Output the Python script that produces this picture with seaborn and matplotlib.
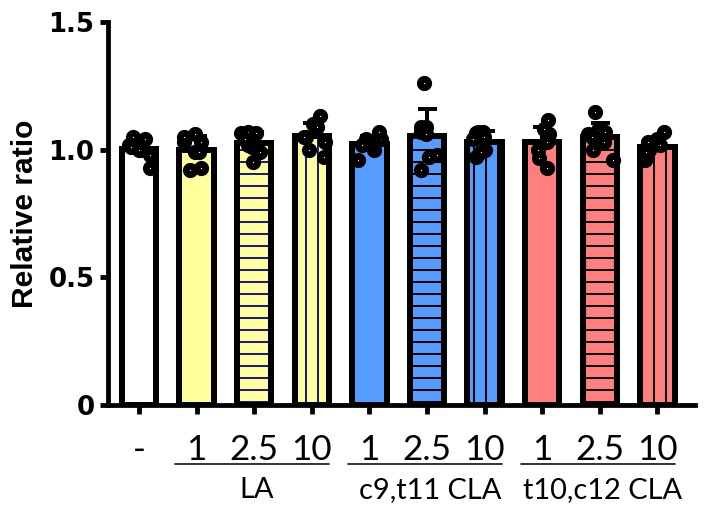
import numpy as np
import pandas as pd
import matplotlib
matplotlib.use("Agg")
import matplotlib.pyplot as plt
from matplotlib.patches import Rectangle
from matplotlib import transforms
import seaborn as sns

# Treatment conditions (x order) and their axis text
conditions = ["ctrl", "LA 1", "LA 2.5", "LA 10",
              "c9t11 1", "c9t11 2.5", "c9t11 10",
              "t10c12 1", "t10c12 2.5", "t10c12 10"]
dose_labels = ["-", "1", "2.5", "10", "1", "2.5", "10", "1", "2.5", "10"]
group_names = ["LA", "c9,t11 CLA", "t10,c12 CLA"]
group_spans = [(1, 3), (4, 6), (7, 9)]

# Relative ratio per replicate
ctrl = [1.00, 1.04, 1.05, 1.00, 0.93, 0.98, 1.02, 1.01]
la_1 = [1.03, 0.99, 1.05, 1.06, 1.03, 0.92, 0.93, 0.99]
la_2_5 = [1.065, 1.065, 1.07, 1.01, 1.02, 0.99, 0.95, 1.04]
la_10 = [1.10, 1.13, 1.05, 1.05, 1.00, 0.97, 1.03, 1.09]
c9t11_1 = [1.04, 1.07, 1.04, 0.96, 1.00, 1.02, 1.03, 1.02]
c9t11_2_5 = [1.26, 1.09, 1.09, 1.07, 1.06, 0.98, 0.97, 0.92]
c9t11_10 = [1.07, 1.07, 1.065, 0.97, 1.00, 1.04, 1.05, 0.99]
t10c12_1 = [1.116, 1.06, 1.05, 1.03, 0.967, 0.93, 1.00, 1.08]
t10c12_2_5 = [1.148, 1.077, 1.06, 1.00, 0.96, 1.05, 1.07, 1.03]
t10c12_10 = [1.07, 1.04, 1.02, 0.96, 0.97, 1.00, 1.03, 0.99]

series = [ctrl, la_1, la_2_5, la_10, c9t11_1, c9t11_2_5, c9t11_10,
          t10c12_1, t10c12_2_5, t10c12_10]

fill_colors = ["#FFFFFF", "#FFFF9E", "#FFFF9E", "#FFFF9E",
               "#559CFF", "#559CFF", "#559CFF",
               "#FF7F7F", "#FF7F7F", "#FF7F7F"]
hatches = ["", "", "--", "||", "", "--", "||", "", "--", "||"]
hatch_colors = ["black", "#1C1C84", "#1C1C84", "#1C1C84",
                "black", "black", "black", "black", "black", "black"]

df = pd.DataFrame({
    "cond": np.repeat(conditions, [len(s) for s in series]),
    "value": np.concatenate(series),
})

sns.set_style("ticks")
plt.rcParams.update({
    "hatch.linewidth": 1.0,
    "text.color": "black",
    "axes.labelcolor": "black",
    "xtick.color": "black",
    "ytick.color": "black",
})

DPI = 144
fig = plt.figure(figsize=(704 / DPI, 512 / DPI), dpi=DPI)
ax = fig.add_axes([107.5 / 704, 1 - 405 / 512, 587.5 / 704, 383 / 512])

sns.barplot(data=df, x="cond", y="value", order=conditions, hue="cond",
            hue_order=conditions, palette=fill_colors, saturation=1,
            legend=False, errorbar=None, width=0.6, linewidth=0, ax=ax)

# hatch inside each bar, then a heavy black outline on top
bars = list(ax.patches[:len(conditions)])
for patch, h, hc in zip(bars, hatches, hatch_colors):
    patch.set_hatch(h)
    patch.set_edgecolor(hc)
    patch.set_linewidth(0)
    patch.set_zorder(1)
for patch in bars:
    ax.add_patch(Rectangle(patch.get_xy(), patch.get_width(), patch.get_height(),
                           fill=False, edgecolor="black", linewidth=3.0,
                           zorder=1.5, joinstyle="miter"))

# SD error bars drawn upward only
stats = df.groupby("cond")["value"].agg(["mean", "std"]).reindex(conditions)
xs = np.arange(len(conditions))
ax.errorbar(xs, stats["mean"], yerr=[np.zeros(len(xs)), stats["std"]],
            fmt="none", ecolor="black", elinewidth=2.0, capsize=4.75,
            capthick=2.0, zorder=2.5)

np.random.seed(3)
sns.stripplot(data=df, x="cond", y="value", order=conditions, jitter=0.24,
              size=4.2, color="white", edgecolor="black", linewidth=3.4,
              ax=ax, zorder=4)

ax.set_xlim(-0.547, 9.653)
ax.set_ylim(0, 1.5)
ax.set_yticks([0, 0.5, 1.0, 1.5])
ax.set_yticklabels(["0", "0.5", "1.0", "1.5"], fontfamily="DejaVu Sans",
                   fontweight="bold", fontsize=13)
ax.set_xticks(xs)
ax.set_xticklabels([])
ax.set_xlabel("")
ax.set_ylabel("")

for side in ("top", "right"):
    ax.spines[side].set_visible(False)
for side in ("left", "bottom"):
    ax.spines[side].set_linewidth(2.4)
    ax.spines[side].set_color("black")
ax.tick_params(axis="y", direction="out", length=4, width=2.4, pad=2.5, colors="black")
ax.tick_params(axis="x", direction="out", length=4.5, width=2.4, colors="black")

ax.text(-0.1404, 0.5, "Relative ratio", transform=ax.transAxes, rotation=90,
        ha="center", va="center", fontfamily="Liberation Sans",
        fontweight="bold", fontsize=15, color="black")

# dose labels, underlines and group names below the axis
trans = transforms.blended_transform_factory(ax.transData, ax.transAxes)
for x, lab in zip(xs, dose_labels):
    ax.text(x, -0.144, lab, transform=trans, ha="center", va="baseline",
            fontfamily="Lato", fontsize=17.5, clip_on=False)
for (lo, hi), name in zip(group_spans, group_names):
    ax.plot([lo - 0.37, hi + 0.3], [-0.155, -0.155], transform=trans,
            color="#222222", linewidth=0.9, clip_on=False)
    ax.text((lo + hi) / 2 + 0.05, -0.243, name, transform=trans, ha="center",
            va="baseline", fontfamily="Lato", fontsize=14.5, clip_on=False)

fig.savefig("out.png", dpi=DPI)
